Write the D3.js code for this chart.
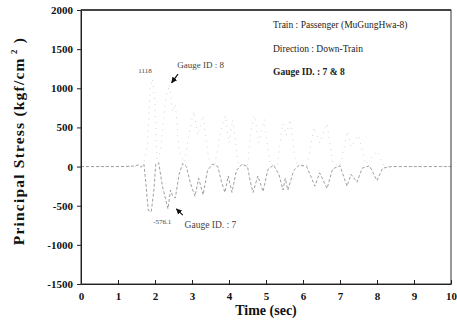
<!DOCTYPE html>
<html>
<head>
<meta charset="utf-8">
<script src="https://cdn.jsdelivr.net/npm/d3@7"></script>
<style>
  body { margin: 0; background: #fff; }
  svg { display: block; font-family: "Liberation Serif", "DejaVu Serif", serif; }
</style>
</head>
<body>
<svg width="457" height="331"></svg>
<script>
// time (sec) and stress (kgf/cm2)
const time7 = [0, 1.0, 1.4, 1.55, 1.62, 1.7, 1.75, 1.82, 1.9, 1.97, 2.02, 2.1, 2.2, 2.35, 2.42, 2.48, 2.55, 2.65, 2.75, 2.85,
  2.95, 3.08, 3.18, 3.3, 3.42, 3.55, 3.7, 3.8, 3.89, 3.98, 4.08, 4.2, 4.35, 4.5, 4.58, 4.65, 4.78, 4.92, 5.05, 5.2,
  5.35, 5.46, 5.52, 5.59, 5.75, 5.9, 6.1, 6.32, 6.45, 6.65, 6.8, 7.0, 7.19, 7.3, 7.46, 7.6, 7.8, 8.0, 8.15, 8.4, 10];
const gauge7 = [0, 0, 5, 20, -10, 30, -200, -560, -576, -300, 30, 50, -250, -540, -300, -380, -400, -100, 40, 0,
  -200, -380, -150, -360, -50, 30, 0, -200, -330, -120, -330, -50, 30, 0, -200, -330, -120, -320, -40, 20,
  -100, -300, -150, -300, -50, 20, 0, -250, -80, -280, -30, 10, -250, -100, -200, -20, 10, -180, -20, 0, 0];

const time8 = [0, 1.6, 1.7, 1.8, 1.87, 1.93, 2.0, 2.05, 2.15, 2.3, 2.4, 2.47, 2.55, 2.65, 2.8, 2.95, 3.05, 3.15, 3.3, 3.45,
  3.6, 3.8, 3.9, 4.0, 4.1, 4.25, 4.5, 4.6, 4.7, 4.8, 4.95, 5.1, 5.3, 5.45, 5.55, 5.65, 5.8, 6.1, 6.3, 6.45,
  6.65, 6.8, 7.0, 7.2, 7.3, 7.5, 7.7, 8.0, 8.2, 10];
const gauge8 = [0, 0, 50, 300, 1000, 1118, 800, 100, 200, 900, 1050, 700, 800, 200, 50, 500, 700, 400, 650, 100,
  0, 500, 650, 300, 600, 50, 0, 500, 650, 300, 600, 50, 0, 550, 400, 600, 50, 0, 500, 300,
  550, 50, 0, 450, 250, 400, 30, 200, 0, 0];

const xTicks = [0, 1, 2, 3, 4, 5, 6, 7, 8, 9, 10];
const yTicks = [-1500, -1000, -500, 0, 500, 1000, 1500, 2000];

const infoLines = ["Train  :  Passenger (MuGungHwa-8)", "Direction : Down-Train", "Gauge ID. : 7 & 8"];

const svg = d3.select("svg");
const margin = {top: 10, right: 6, bottom: 47, left: 81};
const W = 457, H = 331;
const iw = W - margin.left - margin.right;
const ih = H - margin.top - margin.bottom;

const x = d3.scaleLinear().domain([0, 10]).range([0, iw]);
const y = d3.scaleLinear().domain([-1500, 2000]).range([ih, 0]);

const g = svg.append("g").attr("transform", "translate(" + margin.left + "," + margin.top + ")");

// gauge 8 - very faint dotted
const line = d3.line().x(d => x(d[0])).y(d => y(d[1]));
g.append("path")
  .datum(d3.zip(time8, gauge8))
  .attr("d", line)
  .attr("fill", "none")
  .attr("stroke", "#c8c8c8")
  .attr("stroke-width", 0.8)
  .attr("stroke-dasharray", "1,5");

// gauge 7 - dashed
g.append("path")
  .datum(d3.zip(time7, gauge7))
  .attr("d", line)
  .attr("fill", "none")
  .attr("stroke", "#888")
  .attr("stroke-width", 0.8)
  .attr("stroke-dasharray", "3,2");

// frame
g.append("rect")
  .attr("width", iw).attr("height", ih)
  .attr("fill", "none").attr("stroke", "#333").attr("stroke-width", 1);
g.append("line").attr("x1", 0).attr("x2", iw).attr("y1", 0).attr("y2", 0)
  .attr("stroke", "#444").attr("stroke-width", 2);

// axes
const xAxis = d3.axisBottom(x).tickValues(xTicks).tickSizeInner(-4).tickSizeOuter(0).tickPadding(8)
  .tickFormat(d => String(d));
const yAxis = d3.axisLeft(y).tickValues(yTicks).tickSizeInner(4).tickSizeOuter(0).tickPadding(4)
  .tickFormat(d => String(d));

const gx = g.append("g").attr("transform", "translate(0," + ih + ")").call(xAxis);
const gy = g.append("g").call(yAxis);
[gx, gy].forEach(a => {
  a.select(".domain").attr("stroke", "#222");
  a.selectAll(".tick line").attr("stroke", "#222");
  a.selectAll("text")
    .attr("fill", "#111")
    .attr("font-size", 11)
    .attr("font-weight", "bold")
    .attr("font-family", "Liberation Serif, serif");
});

// axis titles
svg.append("text")
  .attr("x", margin.left + iw / 2).attr("y", 315)
  .attr("text-anchor", "middle")
  .attr("font-size", 14).attr("font-weight", "bold").attr("fill", "#111")
  .text("Time (sec)");

const yt = svg.append("text")
  .attr("transform", "translate(24," + (margin.top + ih / 2 - 6) + ") rotate(-90)")
  .attr("text-anchor", "middle")
  .attr("font-size", 15.5).attr("font-weight", "bold").attr("fill", "#111")
  .attr("letter-spacing", 1.2);
yt.append("tspan").text("Principal  Stress (kgf/cm");
yt.append("tspan").attr("dy", -7).attr("font-size", 9).text(" 2");
yt.append("tspan").attr("dy", 7).text(" )");

// info block
g.selectAll(".info").data(infoLines).enter().append("text")
  .attr("class", "info")
  .attr("x", 192)
  .attr("y", (d, i) => 18 + i * 23.5)
  .attr("font-size", 9.5)
  .attr("font-weight", (d, i) => i === 2 ? "bold" : "normal")
  .attr("fill", "#222")
  .text(d => d);

// annotations
const ann = [
  {t: 1.55, v: 1190, s: "1118", fs: 7},
  {t: 2.6, v: 1260, s: "Gauge ID : 8", fs: 9},
  {t: 1.95, v: -730, s: "-576.1", fs: 7},
  {t: 2.8, v: -790, s: "Gauge ID. : 7", fs: 9.5}
];
g.selectAll(".ann").data(ann).enter().append("text")
  .attr("x", d => x(d.t)).attr("y", d => y(d.v))
  .attr("font-size", d => d.fs).attr("fill", "#444")
  .text(d => d.s);

// arrows
const arrows = [
  {from: [2.62, 1180], to: [2.45, 1070]},
  {from: [2.75, -620], to: [2.58, -540]}
];
svg.append("defs").append("marker")
  .attr("id", "ah").attr("viewBox", "0 0 10 10").attr("refX", 9).attr("refY", 5)
  .attr("markerWidth", 5).attr("markerHeight", 5).attr("orient", "auto")
  .append("path").attr("d", "M0,0L10,5L0,10z").attr("fill", "#111");
g.selectAll(".arr").data(arrows).enter().append("line")
  .attr("x1", d => x(d.from[0])).attr("y1", d => y(d.from[1]))
  .attr("x2", d => x(d.to[0])).attr("y2", d => y(d.to[1]))
  .attr("stroke", "#111").attr("stroke-width", 1.2)
  .attr("marker-end", "url(#ah)");
</script>
</body>
</html>
